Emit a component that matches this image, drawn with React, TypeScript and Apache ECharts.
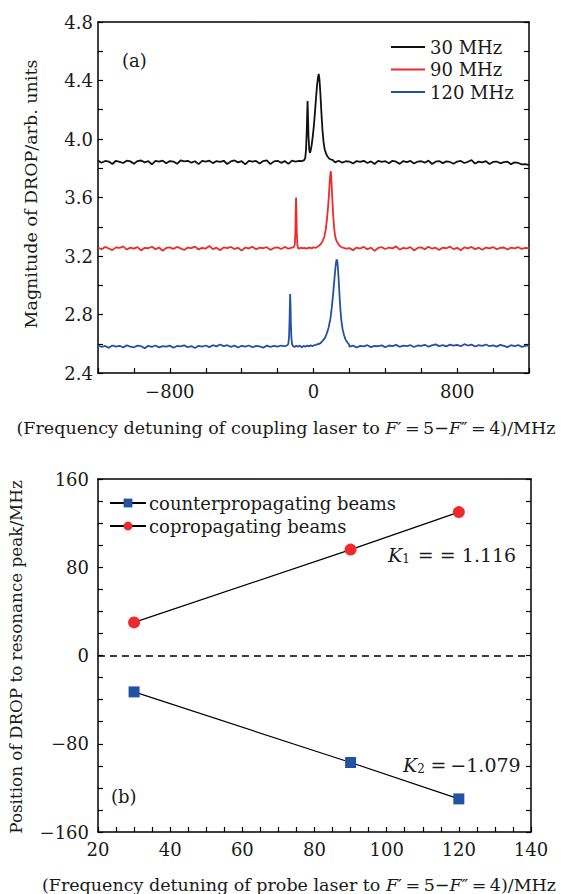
import React, { useEffect, useRef } from "react";
import * as echarts from "echarts";

// ---------- data: panel (a) ----------
const X_START = -1200;
const X_STEP = 20;

const base30 = [
  3.852,3.838,3.850,3.846,3.829,3.851,3.844,3.836,3.852,3.847,
  3.831,3.849,3.853,3.840,3.848,3.827,3.850,3.845,3.852,3.834,
  3.849,3.846,3.830,3.853,3.847,3.851,3.838,3.848,3.828,3.850,
  3.846,3.852,3.835,3.849,3.844,3.851,3.829,3.847,3.853,3.840,
  3.848,3.826,3.851,3.845,3.850,3.833,3.849,3.854,3.828,3.847,
  3.851,3.837,3.849,3.830,3.852,3.846,3.850,3.848,3.852,3.850,
  3.860,3.870,3.880,3.870,3.860,3.855,3.840,3.851,3.838,3.848,
  3.846,3.832,3.849,3.844,3.851,3.836,3.847,3.829,3.850,3.843,
  3.848,3.834,3.851,3.845,3.830,3.849,3.842,3.850,3.833,3.846,
  3.848,3.838,3.852,3.829,3.845,3.849,3.835,3.847,3.843,3.831,
  3.846,3.850,3.836,3.844,3.856,3.832,3.845,3.840,3.848,3.829,
  3.843,3.846,3.834,3.842,3.845,3.828,3.840,3.836,3.826,3.828,3.822,
];
const peak30: [number, number][] = [
  [-66,3.848],[-58,3.852],[-52,3.855],[-46,3.87],[-42,3.92],[-38,4.04],[-35,4.18],[-33,4.26],
  [-31,4.17],[-28,4.02],[-24,3.93],[-20,3.905],[-16,3.92],[-10,3.96],[-4,4.02],[2,4.09],
  [8,4.18],[14,4.28],[20,4.37],[25,4.42],[29,4.445],[33,4.41],[38,4.32],[44,4.18],
  [50,4.06],[56,3.98],[62,3.93],[70,3.90],[78,3.88],[88,3.865],[98,3.86],[108,3.855],
];

const base90 = [
  3.258,3.246,3.262,3.251,3.240,3.259,3.255,3.266,3.244,3.257,
  3.250,3.261,3.238,3.256,3.253,3.263,3.247,3.258,3.236,3.255,
  3.259,3.249,3.262,3.252,3.241,3.258,3.254,3.264,3.245,3.256,
  3.251,3.268,3.247,3.257,3.239,3.259,3.254,3.262,3.248,3.256,
  3.237,3.258,3.252,3.263,3.246,3.257,3.253,3.260,3.242,3.255,
  3.259,3.248,3.262,3.250,3.256,3.252,3.260,3.255,3.258,3.256,
  3.257,3.254,3.260,3.262,3.265,3.270,3.268,3.262,3.258,3.250,
  3.254,3.240,3.258,3.251,3.262,3.246,3.257,3.235,3.255,3.260,
  3.248,3.258,3.252,3.266,3.243,3.256,3.251,3.261,3.238,3.255,
  3.259,3.246,3.263,3.250,3.257,3.241,3.258,3.253,3.264,3.247,
  3.256,3.239,3.259,3.252,3.262,3.247,3.257,3.243,3.258,3.252,
  3.261,3.246,3.255,3.258,3.244,3.257,3.252,3.260,3.249,3.256,3.254,
];
const peak90: [number, number][] = [
  [-126,3.255],[-118,3.258],[-110,3.26],[-104,3.28],[-101,3.36],[-99,3.50],[-97,3.60],[-95,3.50],
  [-93,3.36],[-90,3.28],[-86,3.255],[-80,3.25],[-70,3.258],[-60,3.252],[-50,3.256],[-40,3.25],
  [-30,3.255],[-20,3.258],[-10,3.252],[0,3.26],[10,3.255],[20,3.262],[30,3.27],[40,3.28],
  [50,3.30],[60,3.33],[68,3.38],[74,3.44],[80,3.52],[85,3.60],[89,3.68],[93,3.75],
  [96,3.78],[99,3.74],[102,3.66],[106,3.56],[110,3.47],[115,3.39],[120,3.34],[126,3.31],
  [134,3.29],[142,3.275],[150,3.265],[158,3.26],
];

const base120 = [
  2.590,2.578,2.585,2.572,2.588,2.580,2.586,2.574,2.589,2.581,
  2.576,2.587,2.583,2.570,2.586,2.579,2.588,2.575,2.584,2.580,
  2.587,2.573,2.585,2.582,2.589,2.576,2.584,2.571,2.586,2.581,
  2.588,2.577,2.590,2.582,2.595,2.584,2.590,2.579,2.587,2.574,
  2.586,2.581,2.588,2.576,2.585,2.582,2.573,2.587,2.579,2.585,
  2.580,2.588,2.575,2.586,2.582,2.589,2.578,2.585,2.580,2.583,
  2.586,2.594,2.600,2.610,2.620,2.625,2.610,2.600,2.590,2.585,
  2.580,2.587,2.574,2.585,2.582,2.590,2.577,2.586,2.583,2.589,
  2.576,2.588,2.584,2.592,2.579,2.587,2.583,2.590,2.578,2.588,
  2.585,2.593,2.580,2.589,2.596,2.584,2.591,2.582,2.594,2.587,
  2.592,2.583,2.597,2.588,2.594,2.581,2.590,2.586,2.595,2.583,
  2.589,2.580,2.592,2.585,2.577,2.590,2.584,2.591,2.579,2.586,2.588,
];
const peak120: [number, number][] = [
  [-162,2.583],[-154,2.586],[-146,2.59],[-140,2.60],[-136,2.65],[-133,2.78],[-131,2.90],[-130,2.94],
  [-128,2.86],[-126,2.74],[-123,2.64],[-119,2.595],[-114,2.585],[-106,2.578],[-96,2.586],[-86,2.58],
  [-76,2.588],[-66,2.575],[-56,2.585],[-46,2.58],[-36,2.587],[-26,2.582],[-16,2.589],[-6,2.584],
  [4,2.59],[14,2.592],[24,2.598],[34,2.60],[44,2.61],[54,2.625],[64,2.64],[74,2.67],
  [84,2.71],[94,2.77],[102,2.85],[110,2.95],[117,3.05],[123,3.13],[128,3.175],[132,3.17],
  [136,3.12],[140,3.04],[145,2.93],[150,2.83],[156,2.75],[162,2.70],[170,2.66],[178,2.63],
  [188,2.61],[198,2.595],
];

const traceNames = ["30 MHz", "90 MHz", "120 MHz"];
const traceColors = ["#111111", "#ee2a2a", "#2352a3"];

// ---------- data: panel (b) ----------
const probeDetuning = [30, 90, 120];
const counterPeak = [-33, -97, -130];
const coPeak = [30, 96, 130];
const seriesNamesB = ["counterpropagating beams", "copropagating beams"];

const FONT = "'DejaVu Serif', 'Liberation Serif', serif";
const TXT = "#1a1a1a";

function buildTrace(base: number[], peak: [number, number][]) {
  const lo = peak[0][0];
  const hi = peak[peak.length - 1][0];
  const pts: [number, number][] = base
    .map((y, i) => [X_START + i * X_STEP, y] as [number, number])
    .filter((p) => p[0] < lo || p[0] > hi);
  return pts.concat(peak).sort((a, b) => a[0] - b[0]);
}

const minus = (v: number) => (v < 0 ? "\u2212" + Math.abs(v) : String(v));

export default function App() {
  const ref = useRef<HTMLDivElement>(null);
  useEffect(() => {
    if (!ref.current) return;
    const chart = echarts.init(ref.current, null, { renderer: "svg" });
    const traces = [buildTrace(base30, peak30), buildTrace(base90, peak90), buildTrace(base120, peak120)];

    const axisLine = { show: true, onZero: false, lineStyle: { color: "#000", width: 1.5 } };
    const tick = { show: true, inside: true, length: 5, lineStyle: { color: "#000", width: 1.2 } };
    const minor = { show: true, splitNumber: 4, length: 5, lineStyle: { color: "#000", width: 1.2 } };
    const label = { color: TXT, fontFamily: FONT, fontSize: 18 };

    const grids = [
      { left: 98, top: 22, width: 431, height: 351 },
      { left: 98, top: 479, width: 433, height: 353 },
    ];

    const option: any = {
      animation: false,
      backgroundColor: "#fff",
      grid: grids,
      xAxis: [
        {
          gridIndex: 0, type: "value", min: -1200, max: 1200, interval: 200,
          axisLine, axisTick: tick, splitLine: { show: false },
          axisLabel: {
            ...label, margin: 9,
            formatter: (v: number) => (Math.round(v) % 800 === 0 && Math.abs(v) < 1200 ? minus(Math.round(v)) : ""),
          },
        },
        {
          gridIndex: 0, type: "value", position: "top", min: -1200, max: 1200,
          axisLine, axisTick: { show: false }, axisLabel: { show: false }, splitLine: { show: false },
        },
        {
          gridIndex: 1, type: "value", min: 20, max: 140, interval: 20,
          axisLine, axisTick: tick, splitLine: { show: false }, minorTick: minor,
          axisLabel: { ...label, margin: 8 },
        },
        {
          gridIndex: 1, type: "value", position: "top", min: 20, max: 140,
          axisLine, axisTick: { show: false }, axisLabel: { show: false }, splitLine: { show: false },
        },
      ],
      yAxis: [
        {
          gridIndex: 0, type: "value", min: 2.4, max: 4.8, interval: 0.2,
          axisLine, axisTick: tick, splitLine: { show: false },
          axisLabel: {
            ...label, margin: 5,
            formatter: (v: number) => (Math.round(v * 10) % 4 === 0 ? v.toFixed(1) : ""),
          },
        },
        {
          gridIndex: 0, type: "value", position: "right", min: 2.4, max: 4.8, interval: 0.2,
          axisLine, axisTick: tick, axisLabel: { show: false }, splitLine: { show: false },
        },
        {
          gridIndex: 1, type: "value", min: -160, max: 160, interval: 80,
          axisLine, axisTick: tick, splitLine: { show: false }, minorTick: minor,
          axisLabel: { ...label, margin: 9, formatter: (v: number) => minus(v) },
        },
        {
          gridIndex: 1, type: "value", position: "right", min: -160, max: 160, interval: 80,
          axisLine, axisTick: tick, splitLine: { show: false }, minorTick: minor,
          axisLabel: { show: false },
        },
      ],
      legend: [
        {
          data: traceNames.map((n) => ({ name: n, icon: "rect" })),
          orient: "vertical", left: 386, top: 32,
          itemWidth: 34, itemHeight: 2, itemGap: 2.5,
          textStyle: { color: TXT, fontFamily: FONT, fontSize: 18, lineHeight: 20, padding: [0, 0, 0, 0] },
        },
        {
          data: seriesNamesB, orient: "vertical", left: 104, top: 488,
          itemWidth: 36, itemHeight: 11, itemGap: 3,
          textStyle: { color: TXT, fontFamily: FONT, fontSize: 18, lineHeight: 20, padding: [0, 0, 0, -2] },
        },
      ],
      series: [
        ...traces.map((d, k) => ({
          name: traceNames[k], type: "line", xAxisIndex: 0, yAxisIndex: 0,
          data: d, symbol: "none", showSymbol: false,
          lineStyle: { color: traceColors[k], width: 1.8 }, itemStyle: { color: traceColors[k] },
          z: 3 - k,
        })),
        {
          name: seriesNamesB[0], type: "line", xAxisIndex: 2, yAxisIndex: 2,
          data: probeDetuning.map((x, i) => [x, counterPeak[i]]),
          symbol: "rect", symbolSize: 11,
          itemStyle: { color: "#2352a3" }, lineStyle: { color: "#000", width: 1.2 },
          markLine: {
            silent: true, symbol: "none", label: { show: false },
            lineStyle: { color: "#000", type: [7, 5], width: 1.5 },
            data: [{ yAxis: 0 }],
          },
        },
        {
          name: seriesNamesB[1], type: "line", xAxisIndex: 2, yAxisIndex: 2,
          data: probeDetuning.map((x, i) => [x, coPeak[i]]),
          symbol: "circle", symbolSize: 12,
          itemStyle: { color: "#ee2a2a" }, lineStyle: { color: "#000", width: 1.2 },
        },
      ],
      graphic: [
        { type: "text", left: 122, top: 51, style: { text: "(a)", font: `18px ${FONT}`, fill: TXT } },
        { type: "text", left: 111, top: 787, style: { text: "(b)", font: `18px ${FONT}`, fill: TXT } },
        {
          type: "text", x: 31, y: 194, rotation: Math.PI / 2,
          style: { text: "Magnitude of DROP/arb. units", font: `17.5px ${FONT}`, fill: TXT, align: "center", verticalAlign: "middle" },
        },
        {
          type: "text", x: 16, y: 657, rotation: Math.PI / 2,
          style: { text: "Position of DROP to resonance peak/MHz", font: `16.8px ${FONT}`, fill: TXT, align: "center", verticalAlign: "middle" },
        },
        {
          type: "text", x: 286, y: 428,
          style: {
            text: "(Frequency detuning of coupling laser to {i|F}\u2032\u2009=\u20095\u2212{i|F}\u2033\u2009=\u20094)/MHz",
            font: `17.5px ${FONT}`, fill: TXT, align: "center", verticalAlign: "middle",
            rich: { i: { fontStyle: "italic", fontFamily: FONT, fontSize: 17.5, fill: TXT } },
          },
        },
        {
          type: "text", x: 299, y: 885,
          style: {
            text: "(Frequency detuning of probe laser to {i|F}\u2032\u2009=\u20095\u2212{i|F}\u2033\u2009=\u20094)/MHz",
            font: `17.5px ${FONT}`, fill: TXT, align: "center", verticalAlign: "middle",
            rich: { i: { fontStyle: "italic", fontFamily: FONT, fontSize: 17.5, fill: TXT } },
          },
        },
        {
          type: "text", x: 388, y: 555,
          style: {
            text: "{i|K}{s|1} = = 1.116",
            font: `19px ${FONT}`, fill: TXT, verticalAlign: "middle",
            rich: {
              i: { fontStyle: "italic", fontFamily: FONT, fontSize: 19, fill: TXT },
              s: { fontFamily: FONT, fontSize: 12, fill: TXT, padding: [8, 2, 0, 0] },
            },
          },
        },
        {
          type: "text", x: 403, y: 765,
          style: {
            text: "{i|K}{s|2}\u2009=\u2009\u22121.079",
            font: `19px ${FONT}`, fill: TXT, verticalAlign: "middle",
            rich: {
              i: { fontStyle: "italic", fontFamily: FONT, fontSize: 19, fill: TXT },
              s: { fontFamily: FONT, fontSize: 12, fill: TXT, padding: [8, 2, 0, 0] },
            },
          },
        },
      ],
    };
    chart.setOption(option);
    return () => chart.dispose();
  }, []);
  return <div ref={ref} style={{ position: "absolute", left: 0, top: 0, width: 561, height: 894 }} />;
}
